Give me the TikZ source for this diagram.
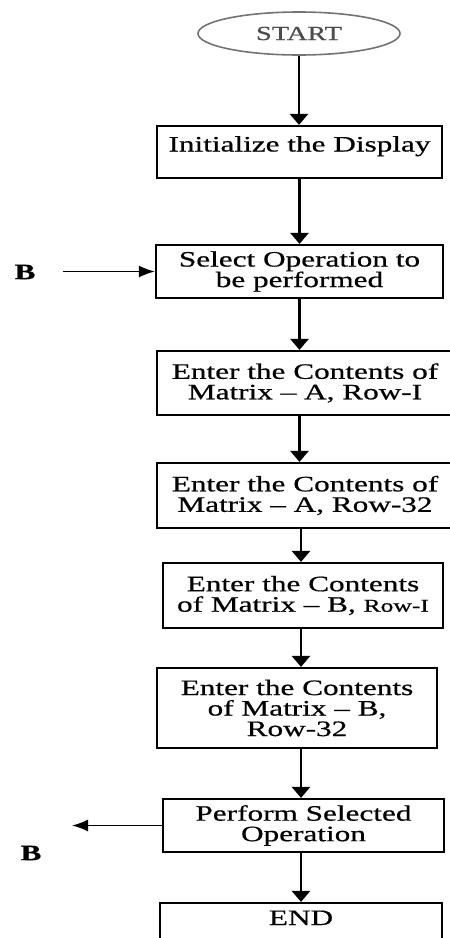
\documentclass[tikz,border=0pt]{standalone}
\usepackage{fontspec}
\setmainfont{Liberation Serif}[FakeStretch=1.42, FakeBold=0.6]
\usetikzlibrary{arrows.meta,shapes.geometric}

\begin{document}
\begin{tikzpicture}[x=1pt, y=-1pt, every node/.style={font=\fontsize{22}{20.5}\selectfont, align=center, inner sep=0pt}, >={Triangle[length=11pt,width=18pt]}]
	\tikzset{box/.style={draw, rectangle, line width=2.2pt}, flow/.style={->, line width=2.6pt}, link/.style={-{Latex[length=16pt,width=12pt]}, line width=1.6pt}}
	\useasboundingbox (0,0) rectangle (450,938);
	\node[ellipse, draw=black!55, line width=1.6pt, minimum width=202pt, minimum height=43pt, text=black!70, font=\fontsize{20}{24}\selectfont] (start) at (299,33.5) {START};
	\node[box, minimum width=285pt, text height=25.5pt, text depth=26.5pt] (init) at (299.5,152) {Initialize the Display};
	\node[box, minimum width=287pt, minimum height=53pt] (sel) at (299.5,271.5) {Select Operation to\\be performed};
	\node[box, minimum width=296pt, minimum height=64pt] (maA1) at (305,383) {Enter the Contents of\\Matrix – A, Row-I};
	\node[box, minimum width=296pt, minimum height=65pt] (maA32) at (305,495.5) {Enter the Contents of\\Matrix – A, Row-32};
	\node[box, minimum width=280pt, minimum height=65pt] (maB1) at (303,595.5) {Enter the Contents\\of Matrix – B, {\fontsize{18}{20.5}\selectfont Row-I}};
	\node[box, minimum width=280pt, minimum height=80pt] (maB32) at (297,708) {Enter the Contents\\of Matrix – B,\\Row-32};
	\node[box, minimum width=281pt, minimum height=53pt] (perf) at (303.5,825.5) {Perform Selected\\Operation};
	\node[box, minimum width=282pt, text height=22pt, text depth=40pt] (endn) at (301,934) {END};
	\node (bA) at (25,272) {\textbf{B}};
	\node (bB) at (31,853) {\textbf{B}};
	\coordinate (bin) at (63,271.5);
	\coordinate (bout) at (72,825.5);
	\draw[flow] (start) -- (start |- init.north);
	\draw[flow] (init.south) -- (init.south |- sel.north);
	\draw[flow] (sel.south) -- (sel.south |- maA1.north);
	\draw[flow] (maA1.south -| init) -- (maA32.north -| init);
	\draw[flow] (maA32.south -| endn) -- (maB1.north -| endn);
	\draw[flow] (maB1.south -| endn) -- (maB32.north -| endn);
	\draw[flow] (maB32.south -| endn) -- (perf.north -| endn);
	\draw[flow] (perf.south -| endn) -- (endn.north);
	\draw[link] (bin) -- (sel.west);
	\draw[link] (perf.west) -- (bout);
\end{tikzpicture}
\end{document}
